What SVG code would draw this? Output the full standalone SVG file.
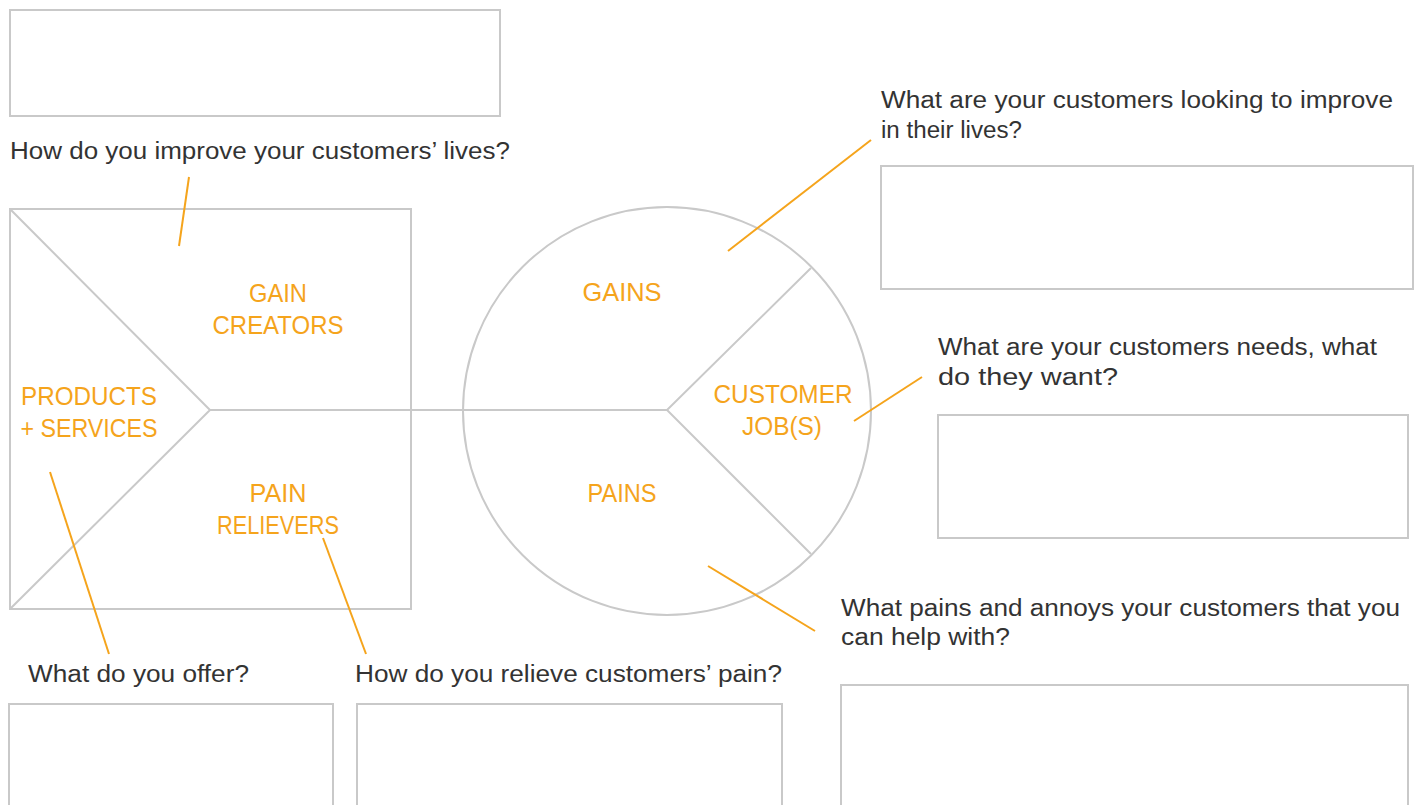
<svg xmlns="http://www.w3.org/2000/svg" width="1421" height="805" viewBox="0 0 1421 805">
<style>
.box{fill:none;stroke:#c9c9c9;stroke-width:2}
.shape{fill:none;stroke:#c9c9c9;stroke-width:2}
.lead{stroke:#f5a41c;stroke-width:2;fill:none}
.q{font-family:"Liberation Sans",Arial,sans-serif;font-size:23px;fill:#333333}
.lbl{font-family:"Liberation Sans",Arial,sans-serif;font-size:25px;fill:#f5a41c;text-anchor:middle}
</style>
<rect width="1421" height="805" fill="#ffffff"/>

<g id="value-proposition">
  <rect class="shape" x="10" y="209" width="401" height="400"/>
  <polyline class="shape" points="10,209 210,410 10,609"/>
  <line class="shape" x1="210" y1="410" x2="667" y2="410"/>
</g>
<g id="customer-profile">
  <circle class="shape" cx="667" cy="411" r="204"/>
  <polyline class="shape" points="811,268 667,410 811,554"/>
</g>

<g id="label-gain-creators">
  <text class="lbl" x="278" y="302" textLength="58" lengthAdjust="spacingAndGlyphs">GAIN</text>
  <text class="lbl" x="278" y="334" textLength="131" lengthAdjust="spacingAndGlyphs">CREATORS</text>
</g>
<g id="label-products-services">
  <text class="lbl" x="89" y="405" textLength="136" lengthAdjust="spacingAndGlyphs">PRODUCTS</text>
  <text class="lbl" x="89" y="437" textLength="137" lengthAdjust="spacingAndGlyphs">+ SERVICES</text>
</g>
<g id="label-pain-relievers">
  <text class="lbl" x="278" y="502" textLength="57" lengthAdjust="spacingAndGlyphs">PAIN</text>
  <text class="lbl" x="278" y="534" textLength="122" lengthAdjust="spacingAndGlyphs">RELIEVERS</text>
</g>
<g id="label-gains">
  <text class="lbl" x="622" y="301" textLength="79" lengthAdjust="spacingAndGlyphs">GAINS</text>
</g>
<g id="label-customer-jobs">
  <text class="lbl" x="783" y="403" textLength="139" lengthAdjust="spacingAndGlyphs">CUSTOMER</text>
  <text class="lbl" x="782" y="435" textLength="80" lengthAdjust="spacingAndGlyphs">JOB(S)</text>
</g>
<g id="label-pains">
  <text class="lbl" x="622" y="502" textLength="69" lengthAdjust="spacingAndGlyphs">PAINS</text>
</g>

<g id="q-gain-creators">
  <rect class="box" x="10" y="10" width="490" height="106"/>
  <text class="q" x="10" y="159" textLength="500" lengthAdjust="spacingAndGlyphs">How do you improve your customers’ lives?</text>
</g>
<g id="q-products">
  <text class="q" x="28" y="682" textLength="221" lengthAdjust="spacingAndGlyphs">What do you offer?</text>
  <rect class="box" x="9" y="704" width="324" height="120"/>
</g>
<g id="q-pain-relievers">
  <text class="q" x="355" y="682" textLength="427" lengthAdjust="spacingAndGlyphs">How do you relieve customers’ pain?</text>
  <rect class="box" x="357" y="704" width="425" height="120"/>
</g>
<g id="q-gains">
  <text class="q" x="881" y="108" textLength="512" lengthAdjust="spacingAndGlyphs">What are your customers looking to improve</text>
  <text class="q" x="881" y="138" textLength="141" lengthAdjust="spacingAndGlyphs">in their lives?</text>
  <rect class="box" x="881" y="166" width="532" height="123"/>
</g>
<g id="q-customer-jobs">
  <text class="q" x="938" y="355" textLength="439" lengthAdjust="spacingAndGlyphs">What are your customers needs, what</text>
  <text class="q" x="938" y="385" textLength="180" lengthAdjust="spacingAndGlyphs">do they want?</text>
  <rect class="box" x="938" y="415" width="470" height="123"/>
</g>
<g id="q-pains">
  <text class="q" x="841" y="616" textLength="559" lengthAdjust="spacingAndGlyphs">What pains and annoys your customers that you</text>
  <text class="q" x="841" y="645" textLength="169" lengthAdjust="spacingAndGlyphs">can help with?</text>
  <rect class="box" x="841" y="685" width="567" height="140"/>
</g>

<g id="connectors">
  <line class="lead" x1="189" y1="177" x2="179" y2="246"/>
  <line class="lead" x1="50" y1="472" x2="109" y2="654"/>
  <line class="lead" x1="323" y1="538" x2="366" y2="654"/>
  <line class="lead" x1="728" y1="251" x2="871" y2="140"/>
  <line class="lead" x1="854" y1="421" x2="922" y2="377"/>
  <line class="lead" x1="708" y1="566" x2="815" y2="631"/>
</g>
</svg>
